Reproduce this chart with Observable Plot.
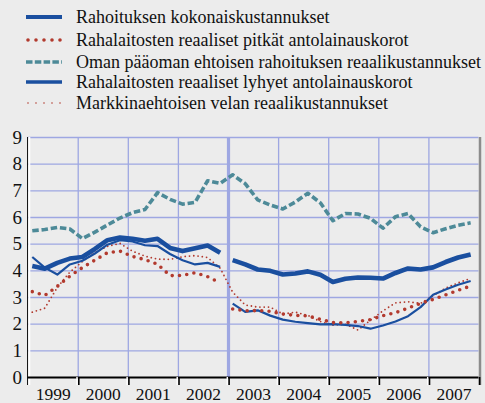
<!DOCTYPE html>
<html>
<head>
<meta charset="utf-8">
<script src="https://cdn.jsdelivr.net/npm/d3@7"></script>
<script src="https://cdn.jsdelivr.net/npm/@observablehq/plot@0.6"></script>
<style>
body{margin:0;background:#ececec;font-family:"Liberation Serif","Times New Roman",Tinos,"DejaVu Serif",serif;}
#wrap{position:relative;width:485px;height:403px;overflow:hidden;background:#ececec}
.row{position:absolute;left:0;height:22px;display:flex;align-items:center;font-size:18px;color:#111;white-space:nowrap;font-family:"Liberation Serif","Times New Roman",Tinos,"DejaVu Serif",serif}
.row svg{margin-left:26px;margin-right:14px;flex:none}
#chart{position:absolute;left:0;top:120px}
#chart text{font-family:"Liberation Serif","Times New Roman",Tinos,"DejaVu Serif",serif}
</style>
</head>
<body>
<div id="wrap">
<div id="legend"></div>
<div id="chart"></div>
</div>
<script>
// ---- data (quarterly, 1999 Q1 .. 2007 Q4) ----
const years = [1999, 2000, 2001, 2002, 2003, 2004, 2005, 2006, 2007];
const yTicks = [0, 1, 2, 3, 4, 5, 6, 7, 8, 9];
const seriesNames = [
  "Rahoituksen kokonaiskustannukset",
  "Rahalaitosten reaaliset pitkät antolainauskorot",
  "Oman pääoman ehtoisen rahoituksen reaalikustannukset",
  "Rahalaitosten reaaliset lyhyet antolainauskorot",
  "Markkinaehtoisen velan reaalikustannukset"
];
const kokonais = [4.18, 4.08, 4.30, 4.46, 4.52, 4.82, 5.15, 5.25, 5.20, 5.13, 5.20, 4.86, 4.74, 4.85, 4.95, 4.68,
  4.40, 4.24, 4.05, 4.00, 3.86, 3.90, 3.98, 3.85, 3.58, 3.70, 3.75, 3.74, 3.71, 3.92, 4.09, 4.05, 4.13, 4.33, 4.50, 4.61];
const pitkat = [3.22, 3.08, 3.42, 3.80, 4.12, 4.40, 4.68, 4.74, 4.54, 4.42, 4.25, 3.82, 3.83, 3.93, 3.78, 3.55,
  2.57, 2.50, 2.51, 2.48, 2.38, 2.33, 2.31, 2.18, 2.06, 2.05, 2.10, 2.17, 2.32, 2.43, 2.60, 2.78, 2.93, 3.10, 3.27, 3.43];
const oman = [5.50, 5.55, 5.63, 5.57, 5.21, 5.45, 5.72, 5.98, 6.18, 6.30, 6.93, 6.68, 6.50, 6.57, 7.38, 7.28,
  7.60, 7.27, 6.66, 6.47, 6.32, 6.58, 6.91, 6.55, 5.88, 6.15, 6.13, 5.97, 5.60, 6.03, 6.15, 5.65, 5.43, 5.58, 5.71, 5.80];
const lyhyet = [4.52, 4.12, 3.86, 4.24, 4.38, 4.65, 4.98, 5.15, 5.10, 4.96, 4.93, 4.63, 4.40, 4.24, 4.30, 4.15,
  2.77, 2.46, 2.52, 2.32, 2.17, 2.09, 2.04, 1.99, 2.00, 1.97, 1.93, 1.83, 1.95, 2.10, 2.30, 2.64, 3.10, 3.30, 3.48, 3.62];
const markkina = [2.45, 2.60, 3.38, 3.95, 4.35, 4.68, 4.92, 5.03, 4.74, 4.55, 4.44, 4.43, 4.53, 4.57, 4.50, 4.10,
  3.20, 2.72, 2.64, 2.64, 2.38, 2.45, 2.33, 2.10, 1.96, 2.00, 1.78, 2.15, 2.50, 2.80, 2.84, 2.78, 3.07, 3.35, 3.55, 3.72];
const breakYear = 2003; // statistical break in bank-lending series

// ---- styles ----
const FONT = "Liberation Serif, Times New Roman, Tinos, DejaVu Serif, serif";
const BLUE = "#1a4f9f", TEAL = "#4d8a98", RED = "#b23a2e", GRID = "#9ea7e2";
const styles = [
  {stroke: BLUE, strokeWidth: 4.6, dash: null, cap: "butt", broken: true, legW: 4.2},
  {stroke: RED, strokeWidth: 3.6, dash: "0,7.3", cap: "round", broken: true, legW: 3.6, legDash: "0,8"},
  {stroke: TEAL, strokeWidth: 3.6, dash: "6.5,2.8", cap: "butt", broken: false, legW: 3.4, legDash: "6.5,2.3"},
  {stroke: BLUE, strokeWidth: 2.2, dash: null, cap: "butt", broken: true, legW: 3.4},
  {stroke: RED, strokeWidth: 1.8, dash: "0,4.3", cap: "round", broken: false, legW: 1.6, legDash: "0,8"}
];
const allValues = [kokonais, pitkat, oman, lyhyet, markkina];

// build rows
const quarterT = [];
for (const y of years) for (let q = 0; q < 4; q++) quarterT.push(y + q / 4 + 1 / 12);
const rows = [];
allValues.forEach((vals, s) => {
  vals.forEach((v, i) => {
    const t = quarterT[i];
    rows.push({s, t, v, seg: s + "-" + (styles[s].broken && t > breakYear ? 1 : 0)});
  });
});

// ---- legend ----
const legend = document.getElementById("legend");
const centers = [17, 40, 62, 82, 103];
seriesNames.forEach((name, s) => {
  const st = styles[s];
  const div = document.createElement("div");
  div.className = "row";
  div.style.top = (centers[s] - 11) + "px";
  div.innerHTML = `<svg width="36" height="10"><line x1="${st.cap === "round" ? 2 : 0}" y1="5" x2="36" y2="5" stroke="${st.stroke}" stroke-width="${st.legW}" stroke-linecap="${st.cap}" ${st.legDash ? `stroke-dasharray="${st.legDash}"` : ""}/></svg><span>${name}</span>`;
  legend.appendChild(div);
});

// ---- chart ----
const boundaries = [2000, 2001, 2002, 2004, 2005, 2006, 2007];
const allBounds = [1999, 2000, 2001, 2002, 2003, 2004, 2005, 2006, 2007, 2008];
const lineMarks = [0, 2, 4, 3, 1].map(s => {
  const st = styles[s];
  return Plot.line(rows.filter(r => r.s === s), {
    x: "t", y: "v", z: "seg", stroke: st.stroke, strokeWidth: st.strokeWidth,
    strokeDasharray: st.dash, strokeLinecap: st.cap, strokeLinejoin: "round"
  });
});

const chart = Plot.plot({
  width: 485, height: 283,
  marginLeft: 27.6, marginRight: 6.5, marginTop: 17, marginBottom: 26,
  style: {background: "transparent", fontFamily: FONT, overflow: "visible"},
  x: {domain: [1999, 2008], axis: null},
  y: {domain: [0, 9], axis: null},
  marks: [
    Plot.ruleY(yTicks.slice(1), {y: d => d, x1: 1999, x2: 2008, stroke: GRID, strokeWidth: 1.3}),
    Plot.ruleX(boundaries, {x: d => d, y1: 0, y2: 9, stroke: GRID, strokeWidth: 1.3}),
    Plot.ruleX([breakYear], {x: d => d, y1: 0, y2: 9, stroke: GRID, strokeWidth: 3.2}),
    ...lineMarks,
    // frame-like axes
    Plot.ruleX([2008], {x: d => d, y1: -0.3, y2: 9, stroke: "#8c8c8c", strokeWidth: 2.5, dx: 1}),
    Plot.ruleX([1999], {x: d => d, y1: -0.3, y2: 9, stroke: "#000", strokeWidth: 1, dx: -0.5}),
    Plot.ruleX([1999], {x: d => d, y1: -0.3, y2: 9, stroke: "#fff", strokeWidth: 2, dx: 1.2}),
    Plot.ruleY([0], {y: d => d, x1: 1999, x2: 2008, stroke: "#000", strokeWidth: 2}),
    Plot.ruleX(allBounds.slice(1, -1), {x: d => d, y1: 0, y2: -0.3, stroke: "#fff", strokeWidth: 1.5, dx: -1.2}),
    Plot.ruleX(allBounds.slice(1), {x: d => d, y1: 0, y2: -0.3, stroke: "#000", strokeWidth: 1.6, dx: 0.6}),
    Plot.text(yTicks, {x: 1999, y: d => d, text: d => String(d), textAnchor: "end", dx: -6, dy: 0, fontSize: 19, fill: "#111", fontFamily: FONT}),
    Plot.text(years, {x: d => d + 0.5, y: 0, text: d => String(d), dy: 16.5, fontSize: 17.5, fill: "#111", fontFamily: FONT})
  ]
});
document.getElementById("chart").appendChild(chart);
</script>
</body>
</html>
